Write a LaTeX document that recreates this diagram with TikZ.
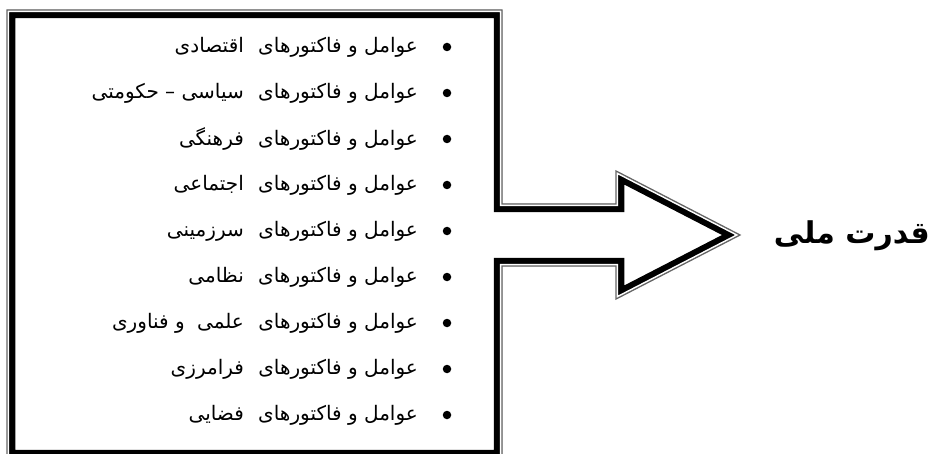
\documentclass[tikz,border=0pt]{standalone}
\usepackage{fontspec}
\newfontfamily\arabicfont[Script=Arabic]{DejaVu Sans}
\TeXXeTstate=1
\tikzset{
  shapepath/.style={insert path={(7,10) -- (502,10) -- (502,204) -- (616,204) -- (616,171) -- (740,235) -- (616,299) -- (616,266) -- (502,266) -- (502,458) -- (7,458) -- cycle}},
  item/.style={anchor=east, inner sep=0pt, font=\arabicfont\fontsize{20}{24}\selectfont},
  dot/.style={circle, fill=black, inner sep=0pt, minimum size=8.5}
}
\begin{document}
\begin{tikzpicture}[x=1pt,y=-1pt,line join=miter]
\useasboundingbox (0,0) rectangle (933,454);
\begin{scope}
  \clip[shapepath];
  \draw[line width=16.5pt, black, shapepath];
  \draw[line width=4.4pt, white, shapepath];
\end{scope}
\draw[line width=1.3pt, black!60, shapepath];
% items
\node[dot] (b1) at (447,47) {};
\node[item] (t1) at (418,47) {\beginR عوامل و فاکتورهای\hspace{0.4em} اقتصادی\endR};
\node[dot] (b2) at (447,93) {};
\node[item] (t2) at (418,93) {\beginR عوامل و فاکتورهای\hspace{0.4em} سیاسی – حکومتی\endR};
\node[dot] (b3) at (447,139) {};
\node[item] (t3) at (418,139) {\beginR عوامل و فاکتورهای\hspace{0.4em} فرهنگی\endR};
\node[dot] (b4) at (447,185) {};
\node[item] (t4) at (418,185) {\beginR عوامل و فاکتورهای\hspace{0.4em} اجتماعی\endR};
\node[dot] (b5) at (447,231) {};
\node[item] (t5) at (418,231) {\beginR عوامل و فاکتورهای\hspace{0.4em} سرزمینی\endR};
\node[dot] (b6) at (447,277) {};
\node[item] (t6) at (418,277) {\beginR عوامل و فاکتورهای\hspace{0.4em} نظامی\endR};
\node[dot] (b7) at (447,323) {};
\node[item] (t7) at (418,323) {\beginR عوامل و فاکتورهای\hspace{0.4em} علمی\hspace{0.3em} و فناوری\endR};
\node[dot] (b8) at (447,369) {};
\node[item] (t8) at (418,369) {\beginR عوامل و فاکتورهای\hspace{0.4em} فرامرزی\endR};
\node[dot] (b9) at (447,415) {};
\node[item] (t9) at (418,415) {\beginR عوامل و فاکتورهای\hspace{0.4em} فضایی\endR};
% label
\node[anchor=east, inner sep=0pt, font=\arabicfont\bfseries\fontsize{30}{36}\selectfont] (lbl) at (930,236) {\beginR قدرت ملی\endR};
\end{tikzpicture}
\end{document}
